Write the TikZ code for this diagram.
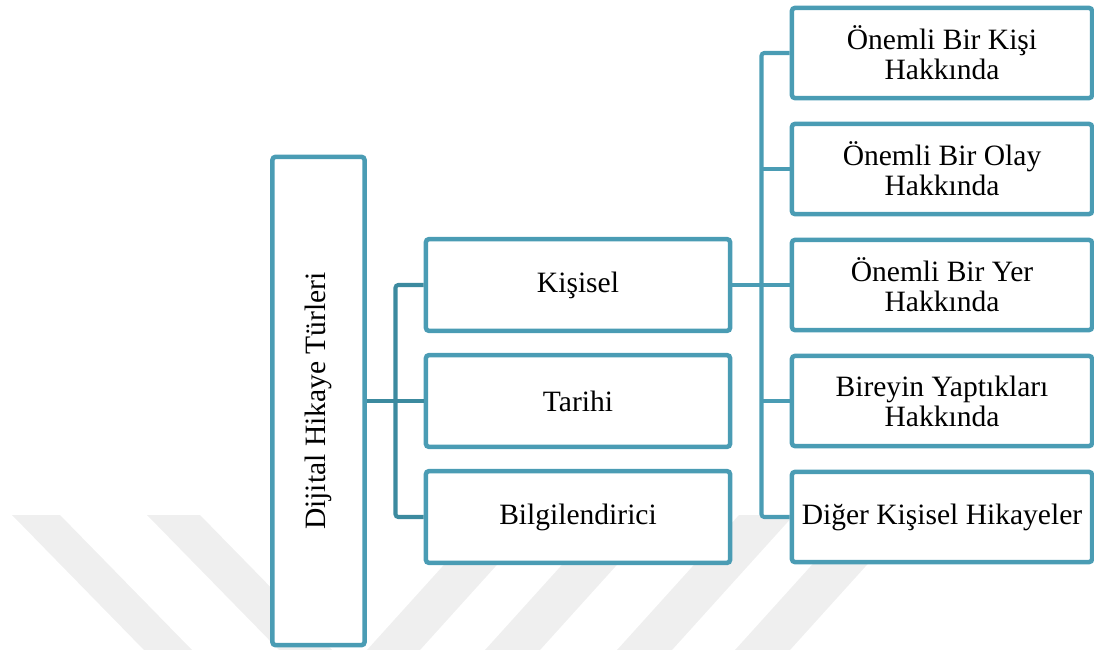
\documentclass[tikz,border=0pt]{standalone}
\usepackage{fontspec}
\setmainfont{Liberation Serif}
\usepackage{graphicx}
\usetikzlibrary{positioning,calc}
\definecolor{Frame}{HTML}{4A9CB4}
\definecolor{DeepFrame}{HTML}{3C8A9F}
\definecolor{Mark}{HTML}{EFEFEF}
\tikzset{
  typebox/.style={draw=Frame,fill=white,line width=1.6pt,rounded corners=1pt,align=center,inner sep=2pt,font=\rmfamily\fontsize{10.5}{10.6}\selectfont},
  rootbox/.style={typebox,minimum width=1.15cm,minimum height=6.1cm},
  midbox/.style={typebox,minimum width=3.8cm,minimum height=1.144cm},
  subbox/.style={typebox,minimum width=3.75cm,minimum height=1.125cm},
  link/.style={draw=Frame,line width=1.45pt,rounded corners=1pt},
  rootlink/.style={link,draw=DeepFrame},
  wmstripe/.style={fill=Mark},
}

\begin{document}
\begin{tikzpicture}[x=0.0125cm,y=-0.0125cm]
    \useasboundingbox (0,0) rectangle (1094,650);

    \fill[wmstripe] (12,515) -- (60,515) -- (192,650) -- (144,650) -- cycle;
    \fill[wmstripe] (147,515) -- (200,515) -- (332,650) -- (279,650) -- cycle;
    \fill[wmstripe] (367,650) -- (420,650) -- (542,515) -- (489,515) -- cycle;
    \fill[wmstripe] (485,650) -- (540,650) -- (662,515) -- (607,515) -- cycle;
    \fill[wmstripe] (617,650) -- (672,650) -- (794,515) -- (739,515) -- cycle;
    \fill[wmstripe] (735,650) -- (790,650) -- (912,515) -- (857,515) -- cycle;

    \node[rootbox] (root) at (318.5,401) {\rotatebox{90}{Dijital Hikaye Türleri}};

    \node[midbox] (kisisel) at (578,285) {Kişisel};
    \node[midbox] (tarihi) at (578,401) {Tarihi};
    \node[midbox] (bilgi) at (578,517) {Bilgilendirici};

    \node[subbox] (kisi) at (942,53) {Önemli Bir Kişi\\Hakkında};
    \node[subbox] (olay) at (942,169) {Önemli Bir Olay\\Hakkında};
    \node[subbox] (yer) at (942,285) {Önemli Bir Yer\\Hakkında};
    \node[subbox] (birey) at (942,401) {Bireyin Yaptıkları\\Hakkında};
    \node[subbox] (diger) at (942,517) {Diğer Kişisel Hikayeler};

    \coordinate (rbar) at (395.5,401);
    \draw[rootlink] (root.east) -- (tarihi.west);
    \draw[rootlink] (kisisel.west) -| (rbar) |- (bilgi.west);

    \coordinate (kbar) at (761.5,285);
    \draw[link] (kisisel.east) -- (yer.west);
    \draw[link] (kisi.west) -| (kbar) |- (diger.west);
    \draw[link] (kbar |- olay.west) -- (olay.west);
    \draw[link] (kbar |- birey.west) -- (birey.west);
  \end{tikzpicture}
\end{document}
